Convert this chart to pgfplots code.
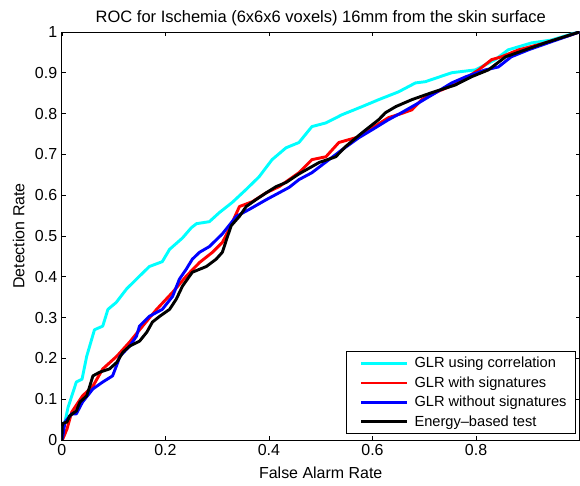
\documentclass[border=0pt]{standalone}
\usepackage{pgfplots}
\pgfplotsset{compat=1.18}
\usepackage{fontspec}
\setmainfont{Liberation Sans}

\begin{document}
\begin{tikzpicture}
\begin{axis}[
    scale only axis,
    width=389.25bp, height=306.75bp,
    xmin=0, xmax=1, ymin=0, ymax=1,
    xtick={0,0.2,0.4,0.6,0.8,1},
    xticklabels={0,0.2,0.4,0.6,0.8,},
    ytick={0,0.1,0.2,0.3,0.4,0.5,0.6,0.7,0.8,0.9,1},
    yticklabels={0,0.1,0.2,0.3,0.4,0.5,0.6,0.7,0.8,0.9,1},
    tick align=inside,
    major tick length=3bp,
    axis line style={line width=0.6pt},
    every tick/.style={black, line width=0.5pt},
    tick label style={font=\fontsize{12bp}{14bp}\selectfont},
    label style={font=\fontsize{12bp}{14bp}\selectfont},
    title style={font=\fontsize{12.4bp}{14bp}\selectfont, yshift=-4.75bp},
    title={ROC for Ischemia (6x6x6 voxels) 16mm from the skin surface},
    xlabel={False Alarm Rate},
    ylabel={Detection Rate},
    xlabel style={yshift=-1.75bp},
    ylabel style={yshift=1bp},
    /pgf/number format/assume math mode=true,
    legend cell align=left,
    legend style={at={(1,0)}, anchor=south east, xshift=-2.5bp, yshift=4.5bp,
        draw=black, line width=0.6pt, font=\fontsize{11bp}{13bp}\selectfont,
        inner xsep=5bp, inner ysep=2bp, row sep=1.2bp},
    legend image code/.code={\path (0bp,0bp) (42bp,0bp); \draw[#1] (5bp,0bp) -- (39.5bp,0bp);},
    every axis plot/.append style={line width=2.2pt, line join=round},
]
\coordinate (ll) at (rel axis cs:0,0);
\coordinate (ur) at (rel axis cs:1,1);

\addplot[color={rgb,1:red,0;green,1;blue,1}] coordinates {
(0,0)(0.002,0.03)(0.006,0.044)(0.012,0.08)(0.019,0.107)(0.028,0.142)(0.039,0.149)(0.048,0.205)(0.063,0.27)(0.079,0.279)(0.089,0.32)(0.105,0.337)(0.125,0.37)(0.144,0.394)(0.169,0.425)(0.194,0.437)(0.208,0.467)(0.233,0.495)(0.25,0.52)(0.26,0.53)(0.285,0.535)(0.304,0.557)(0.329,0.582)(0.356,0.614)(0.381,0.645)(0.406,0.687)(0.433,0.716)(0.458,0.729)(0.483,0.768)(0.51,0.777)(0.541,0.797)(0.58,0.817)(0.612,0.834)(0.65,0.853)(0.683,0.875)(0.702,0.878)(0.753,0.9)(0.799,0.907)(0.837,0.932)(0.862,0.956)(0.907,0.973)(0.945,0.98)(0.99,0.997)(1,1)
};
\addlegendentry{GLR using correlation}

\addplot[color=red] coordinates {
(0,0)(0.002,0.003)(0.01,0.027)(0.019,0.068)(0.04,0.108)(0.06,0.132)(0.079,0.174)(0.106,0.205)(0.131,0.24)(0.156,0.279)(0.183,0.32)(0.214,0.362)(0.24,0.401)(0.266,0.435)(0.291,0.46)(0.31,0.484)(0.323,0.516)(0.343,0.572)(0.368,0.584)(0.395,0.606)(0.42,0.621)(0.439,0.638)(0.458,0.655)(0.483,0.687)(0.51,0.694)(0.535,0.729)(0.574,0.743)(0.606,0.77)(0.631,0.79)(0.656,0.8)(0.676,0.809)(0.695,0.834)(0.728,0.855)(0.766,0.875)(0.805,0.907)(0.83,0.932)(0.849,0.939)(0.882,0.956)(0.933,0.973)(0.984,0.993)(1,1)
};
\addlegendentry{GLR with signatures}

\addplot[color=blue] coordinates {
(0,0)(0.002,0.01)(0.006,0.044)(0.019,0.064)(0.028,0.064)(0.04,0.093)(0.06,0.125)(0.079,0.142)(0.098,0.157)(0.108,0.19)(0.112,0.205)(0.131,0.23)(0.144,0.254)(0.15,0.279)(0.169,0.303)(0.194,0.32)(0.214,0.352)(0.227,0.394)(0.24,0.418)(0.252,0.443)(0.266,0.46)(0.285,0.474)(0.31,0.505)(0.337,0.548)(0.362,0.565)(0.395,0.589)(0.42,0.606)(0.439,0.619)(0.458,0.638)(0.483,0.655)(0.516,0.687)(0.541,0.711)(0.574,0.741)(0.599,0.76)(0.631,0.785)(0.656,0.802)(0.689,0.826)(0.722,0.851)(0.753,0.875)(0.78,0.89)(0.818,0.907)(0.843,0.914)(0.868,0.939)(0.901,0.956)(0.939,0.973)(1,1)
};
\addlegendentry{GLR without signatures}

\addplot[color=black] coordinates {
(0,0)(0.001,0.04)(0.01,0.044)(0.015,0.059)(0.028,0.071)(0.035,0.093)(0.048,0.108)(0.054,0.132)(0.06,0.157)(0.073,0.166)(0.092,0.174)(0.106,0.19)(0.118,0.215)(0.131,0.23)(0.15,0.242)(0.164,0.264)(0.175,0.289)(0.189,0.303)(0.208,0.32)(0.221,0.345)(0.233,0.377)(0.252,0.411)(0.279,0.425)(0.298,0.443)(0.31,0.46)(0.318,0.491)(0.327,0.525)(0.343,0.548)(0.356,0.572)(0.375,0.589)(0.395,0.606)(0.414,0.621)(0.433,0.631)(0.458,0.652)(0.497,0.68)(0.529,0.694)(0.548,0.719)(0.58,0.753)(0.612,0.785)(0.625,0.802)(0.645,0.817)(0.676,0.834)(0.714,0.851)(0.76,0.87)(0.791,0.89)(0.824,0.907)(0.857,0.939)(0.895,0.956)(0.933,0.973)(1,1)
};
\addlegendentry{Energy--based test}

\end{axis}
\pgfresetboundingbox
\path ([shift={(-46.5bp,-34.5bp)}]ll) rectangle ([shift={(0.3bp,24bp)}]ur);
\end{tikzpicture}
\end{document}
